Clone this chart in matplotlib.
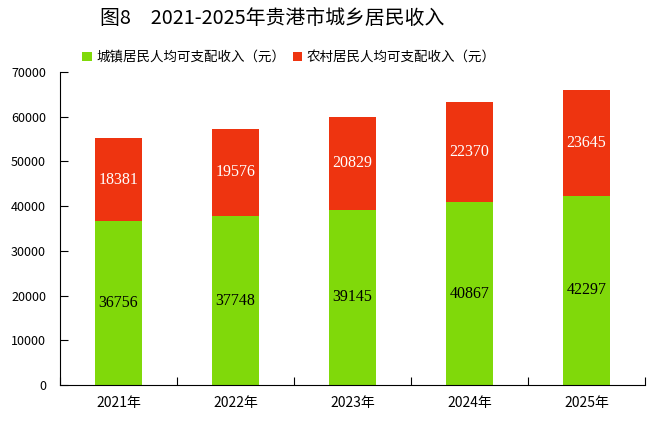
import matplotlib.pyplot as plt
import numpy as np

years = ['2021年', '2022年', '2023年', '2024年', '2025年']
urban = [36756, 37748, 39145, 40867, 42297]
rural = [18381, 19576, 20829, 22370, 23645]

plt.rcParams['font.family'] = ['Noto Sans CJK SC', 'DejaVu Sans']

green = '#80D90A'
red = '#EE3410'

fig = plt.figure(figsize=(6.49, 4.25), dpi=100)
ax = fig.add_axes([60 / 649, 40 / 425, 585 / 649, 313 / 425])

x = np.arange(len(years))
b1 = ax.bar(x, urban, width=0.4, color=green, label='城镇居民人均可支配收入（元）')
b2 = ax.bar(x, rural, width=0.4, bottom=urban, color=red, label='农村居民人均可支配收入（元）')

# value labels in the middle of each segment
for i in range(len(years)):
    ax.text(x[i], urban[i] / 2, str(urban[i]), ha='center', va='center',
            fontsize=11.5, family='Liberation Serif', color='black')
    ax.text(x[i], urban[i] + rural[i] / 2, str(rural[i]), ha='center', va='center',
            fontsize=11.5, family='Liberation Serif', color='white')

ax.set_xlim(-0.5, len(years) - 0.5)
ax.set_ylim(0, 70000)
ax.set_yticks(np.arange(0, 70001, 10000))
ax.tick_params(axis='y', direction='in', length=6, labelsize=9, pad=10)

# x ticks sit between categories, labels centred under the bars
ax.set_xticks(np.arange(-0.5, len(years), 1))
ax.set_xticklabels([])
ax.set_xticks(x, minor=True)
ax.set_xticklabels(years, minor=True, fontsize=10)
ax.tick_params(axis='x', which='major', direction='in', length=6)
ax.tick_params(axis='x', which='minor', length=0, pad=8)

ax.spines['top'].set_visible(False)
ax.spines['right'].set_visible(False)

fig.text(272 / 649, 1 - 18 / 425, '图8　2021-2025年贵港市城乡居民收入', ha='center', va='center',
         fontsize=14.3, fontweight='medium')
fig.legend(handles=[b1, b2], loc='center', bbox_to_anchor=(289 / 649, 1 - 57 / 425), ncol=2,
           frameon=False, fontsize=9.7, handlelength=0.7, handleheight=0.7,
           handletextpad=0.3, columnspacing=0.6)

plt.savefig('out.png', dpi=100)
